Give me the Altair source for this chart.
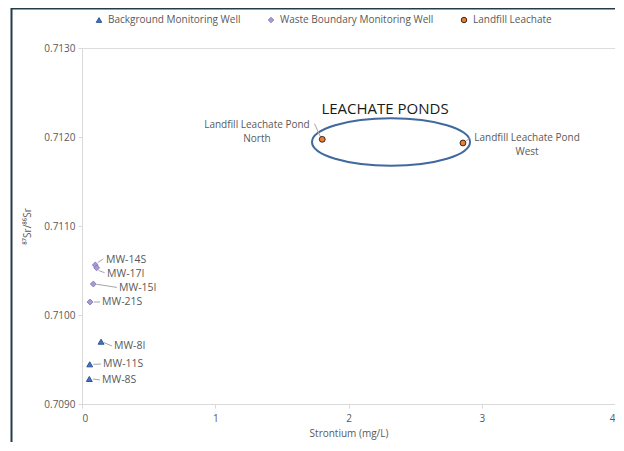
import altair as alt
import pandas as pd

# ---- data ----
groups = ["Background Monitoring Well", "Waste Boundary Monitoring Well", "Landfill Leachate"]

well_names = ["MW-8I", "MW-11S", "MW-8S", "MW-14S", "MW-17I", "MW-15I", "MW-21S",
              "Landfill Leachate Pond North", "Landfill Leachate Pond West"]
well_group = [groups[0]] * 3 + [groups[1]] * 4 + [groups[2]] * 2
strontium = [0.143, 0.058, 0.055, 0.100, 0.110, 0.085, 0.060, 1.803, 2.859]
sr_ratio = [0.709700, 0.709446, 0.709281, 0.710562, 0.710530, 0.710348, 0.710146, 0.711974, 0.711933]

# label annotations (data units)
label_text = ["MW-8I", "MW-11S", "MW-8S", "MW-14S", "MW-17I", "MW-15I", "MW-21S"]
label_x = [0.240, 0.158, 0.150, 0.180, 0.188, 0.278, 0.150]
label_y = [0.709652, 0.709449, 0.709270, 0.710618, 0.710461, 0.710303, 0.710146]
lead_x0 = [0.165, 0.085, 0.082, 0.118, 0.125, 0.110, 0.088]
lead_y0 = [0.709690, 0.709446, 0.709281, 0.710590, 0.710500, 0.710345, 0.710146]
lead_x1 = [0.225, 0.143, 0.135, 0.160, 0.170, 0.262, 0.135]
lead_y1 = [0.709652, 0.709449, 0.709270, 0.710630, 0.710475, 0.710310, 0.710146]

pond_text = [["Landfill Leachate Pond", "North"], ["Landfill Leachate Pond", "West"]]
pond_x = [1.313, 3.340]
pond_y = [0.712135, 0.711994]
pond_lead_x0 = [1.790, 2.885]
pond_lead_y0 = [0.712000, 0.711955]
pond_lead_x1 = [1.745, 2.910]
pond_lead_y1 = [0.712150, 0.711995]

ellipse_x = [2.319]
ellipse_y = [0.711944]
title_text = ["LEACHATE PONDS"]
title_x = [2.274]
title_y = [0.712320]

x_ticks = [0, 1, 2, 3, 4]
y_ticks = [0.709, 0.710, 0.711, 0.712, 0.713]

W, H = 533, 356
GRAY = "#595959"
FONT = "Open Sans"

pts = pd.DataFrame({"name": well_names, "group": well_group, "sr": strontium, "ratio": sr_ratio})
labs = pd.DataFrame({"t": label_text, "x": label_x, "y": label_y,
                     "x0": lead_x0, "y0": lead_y0, "x1": lead_x1, "y1": lead_y1})
ponds = pd.DataFrame({"t": pond_text, "x": pond_x, "y": pond_y,
                      "x0": pond_lead_x0, "y0": pond_lead_y0, "x1": pond_lead_x1, "y1": pond_lead_y1})
ell = pd.DataFrame({"x": ellipse_x, "y": ellipse_y})
ttl = pd.DataFrame({"t": title_text, "x": title_x, "y": title_y})

xs = alt.Scale(domain=[0, 4], nice=False, zero=False)
ys = alt.Scale(domain=[0.709, 0.713], nice=False, zero=False)

xenc = alt.X("sr:Q", scale=xs, title="Strontium (mg/L)",
             axis=alt.Axis(values=x_ticks, format="d", grid=False, domainColor="#D9D9D9",
                           tickColor="#D9D9D9", tickSize=4, labelColor=GRAY, labelFontSize=10,
                           labelFont=FONT, labelPadding=5, titleColor=GRAY, titleFontSize=10,
                           titleFont=FONT, titleFontWeight="normal", titlePadding=5))
yenc = alt.Y("ratio:Q", scale=ys, title="⁸⁷Sr/⁸⁶Sr",
             axis=alt.Axis(values=y_ticks, format=".4f", grid=False, domainColor="#D9D9D9",
                           tickColor="#D9D9D9", tickSize=4, labelColor=GRAY, labelFontSize=10,
                           labelFont=FONT, labelPadding=3, titleColor=GRAY, titleFontSize=10,
                           titleFont=FONT, titleFontWeight="normal", titleX=-55, titleY=178,
                           titleBaseline="middle", titleAlign="center"))

leg = alt.Legend(title=None, orient="none", direction="horizontal", legendX=12, legendY=-33,
                 labelFont=FONT, labelFontSize=10, labelColor=GRAY, symbolSize=30,
                 labelOffset=4, columnPadding=25, padding=0, symbolStrokeWidth=1)

points = alt.Chart(pts).mark_point(filled=True, opacity=1, strokeWidth=1, size=34).encode(
    x=xenc, y=yenc,
    shape=alt.Shape("group:N", scale=alt.Scale(domain=groups, range=["triangle-up", "diamond", "circle"]), legend=leg),
    fill=alt.Fill("group:N", scale=alt.Scale(domain=groups, range=["#4472C4", "#A99BD0", "#ED7D31"]), legend=leg),
    stroke=alt.Stroke("group:N", scale=alt.Scale(domain=groups, range=["#2F5597", "#8E7CC3", "#3A2A1A"]), legend=leg),
)

leaders = alt.Chart(labs).mark_rule(color="#A6A6A6", strokeWidth=1).encode(
    x=alt.X("x0:Q", scale=xs), y=alt.Y("y0:Q", scale=ys), x2="x1:Q", y2="y1:Q")
texts = alt.Chart(labs).mark_text(align="left", baseline="middle", font=FONT, fontSize=10.5, color=GRAY).encode(
    x=alt.X("x:Q", scale=xs), y=alt.Y("y:Q", scale=ys), text="t")

pond_leaders = alt.Chart(ponds).mark_rule(color="#A6A6A6", strokeWidth=1).encode(
    x=alt.X("x0:Q", scale=xs), y=alt.Y("y0:Q", scale=ys), x2="x1:Q", y2="y1:Q")
pond_texts = alt.Chart(ponds).mark_text(align="center", baseline="middle", font=FONT, fontSize=10,
                                        color=GRAY, lineHeight=14).encode(
    x=alt.X("x:Q", scale=xs), y=alt.Y("y:Q", scale=ys), text="t")

ellipse = alt.Chart(ell).mark_point(
    shape="M -1 0 A 1 0.3 0 1 1 1 0 A 1 0.3 0 1 1 -1 0 Z",
    filled=False, size=158 * 158, stroke="#41699D", strokeWidth=2, opacity=1).encode(
    x=alt.X("x:Q", scale=xs), y=alt.Y("y:Q", scale=ys))

title = alt.Chart(ttl).mark_text(align="center", baseline="middle", font=FONT, fontSize=15,
                                 color="#1A1A1A").encode(
    x=alt.X("x:Q", scale=xs), y=alt.Y("y:Q", scale=ys), text="t")

# outer frame of the picture (decoration)
frame_left = alt.Chart(ell).mark_rule(color="#243B4A", strokeWidth=2).encode(
    x=alt.value(-70.5), y=alt.value(-40), y2=alt.value(H + 40))
frame_top = alt.Chart(ell).mark_rule(color="#243B4A", strokeWidth=2).encode(
    x=alt.value(-71), x2=alt.value(W), y=alt.value(-39.5))

chart = alt.layer(ellipse, leaders, pond_leaders, points, texts, pond_texts, title,
                  frame_left, frame_top).properties(
    width=W, height=H,
    autosize=alt.AutoSizeParams(type="none"),
    padding={"left": 74, "top": 40, "right": 0, "bottom": 38},
).configure_view(stroke="#D9D9D9", strokeWidth=1).configure(background="white")

chart.save("out.html", embed_options={"renderer": "svg", "actions": False})
